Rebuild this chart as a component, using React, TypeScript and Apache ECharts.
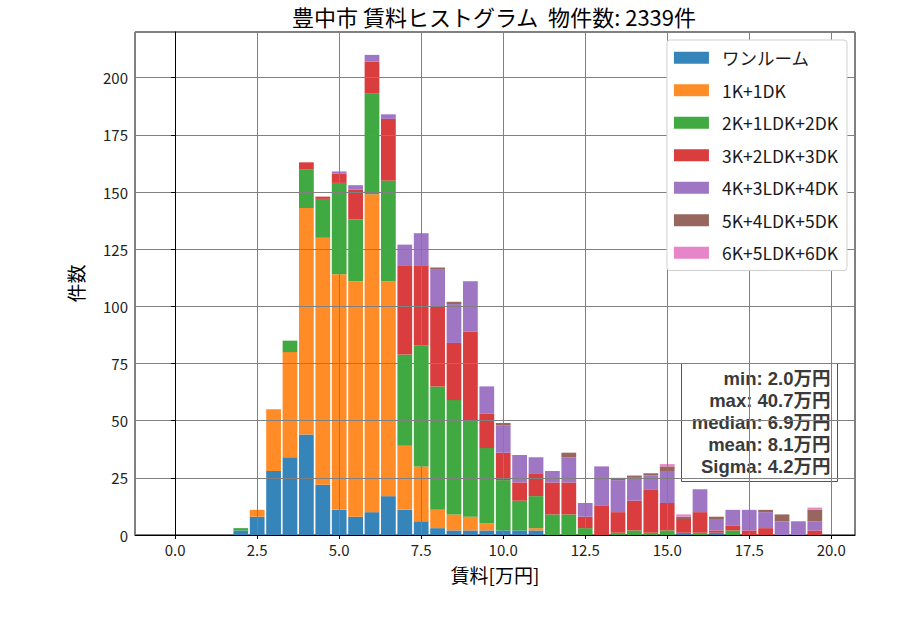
import React, { useEffect, useRef } from "react";
import * as echarts from "echarts";

// 賃料のビン（0.5万円刻み、中心値）
const bins = [
  0, 0.5, 1, 1.5, 2, 2.5, 3, 3.5, 4, 4.5, 5, 5.5, 6, 6.5, 7, 7.5, 8, 8.5, 9, 9.5,
  10, 10.5, 11, 11.5, 12, 12.5, 13, 13.5, 14, 14.5, 15, 15.5, 16, 16.5, 17, 17.5, 18, 18.5, 19, 19.5,
];

const layoutNames = [
  "ワンルーム",
  "1K+1DK",
  "2K+1LDK+2DK",
  "3K+2LDK+3DK",
  "4K+3LDK+4DK",
  "5K+4LDK+5DK",
  "6K+5LDK+6DK",
];

const oneRoom = [
  0, 0, 0, 0, 2, 8, 28, 34, 44, 22, 11, 8, 10, 17, 11, 6, 3, 2, 2, 2,
  2, 2, 2, 0, 0, 0, 0, 0, 0, 0, 0, 1, 0, 1, 0, 0, 0, 0, 0, 0,
];
const k1 = [
  0, 0, 0, 0, 0, 3, 27, 46, 99, 108, 103, 103, 139, 94, 28, 24, 8, 7, 6, 3,
  0, 0, 1, 0, 0, 0, 0, 0, 0, 0, 0, 0, 0, 0, 0, 0, 0, 0, 0, 0,
];
const k2 = [
  0, 0, 0, 0, 1, 0, 0, 5, 17, 17, 40, 27, 44, 44, 40, 53, 54, 50, 42, 33,
  22, 13, 14, 9, 9, 3, 0, 1, 2, 1, 2, 0, 1, 0, 2, 0, 0, 0, 0, 0,
];
const k3 = [
  0, 0, 0, 0, 0, 0, 0, 0, 3, 1, 4, 13, 14, 27, 39, 35, 35, 25, 39, 15,
  12, 8, 10, 14, 14, 5, 13, 9, 13, 19, 12, 6, 9, 1, 2, 2, 3, 0, 0, 2,
];
const k4 = [
  0, 0, 0, 0, 0, 0, 0, 0, 0, 0, 1, 2, 3, 2, 9, 14, 16, 17, 22, 12,
  12, 12, 7, 5, 11, 6, 17, 14, 10, 6, 14, 0, 10, 5, 7, 9, 7, 6, 6, 4,
];
const k5 = [
  0, 0, 0, 0, 0, 0, 0, 0, 0, 0, 0, 0, 0, 0, 0, 0, 1, 1, 0, 0,
  1, 0, 0, 0, 2, 0, 0, 1, 1, 1, 2, 1, 0, 1, 0, 0, 1, 3, 0, 5,
];
const k6 = [
  0, 0, 0, 0, 0, 0, 0, 0, 0, 0, 0, 0, 0, 0, 0, 0, 0, 0, 0, 0,
  0, 0, 0, 0, 0, 0, 0, 0, 0, 0, 1, 1, 0, 0, 0, 0, 0, 0, 0, 1,
];

const statsLines = ["min: 2.0万円", "max: 40.7万円", "median: 6.9万円", "mean: 8.1万円", "Sigma: 4.2万円"];

const colors = ["#3585bb", "#ff8c26", "#41a941", "#da3d3e", "#9f76c4", "#97675d", "#e685c8"];

const FONT = "'Noto Sans CJK JP', 'Noto Sans', sans-serif";
// 統計ボックスは行間が詰まっているので行の高さが小さいフォントにする
const STATS_FONT = "'Liberation Sans', 'Noto Sans CJK JP', sans-serif";

// 軸の範囲（matplotlib の 5% マージン付き）
const xMin = -1.225;
const xMax = 20.725;
const yMax = 220;

const App = () => {
  const chartRef = useRef<HTMLDivElement>(null);

  useEffect(() => {
    document.body.style.margin = "0";
    const chart = echarts.init(chartRef.current, null, { renderer: "svg" });

    const seriesValues = [oneRoom, k1, k2, k3, k4, k5, k6];

    // 棒用グリッドは -0.25〜19.75 の範囲に合わせる
    const plotLeft = 135;
    const plotWidth = 720;
    const pxPerUnit = plotWidth / (xMax - xMin);
    const barLeft = plotLeft + (bins[0] - 0.25 - xMin) * pxPerUnit;
    const barWidthPx = bins.length * 0.5 * pxPerUnit;

    chart.setOption({
      animation: false,
      textStyle: { fontFamily: FONT },
      title: {
        text: "豊中市 賃料ヒストグラム  物件数: 2339件",
        left: 489,
        top: 0,
        textAlign: "center",
        textStyle: { fontFamily: FONT, fontSize: 22, fontWeight: "normal", color: "#000" },
      },
      legend: {
        data: layoutNames,
        orient: "vertical",
        right: 53,
        top: 40,
        itemWidth: 35,
        itemHeight: 12,
        itemGap: 15,
        padding: [9, 9, 9, 7],
        backgroundColor: "#fff",
        borderColor: "#d0d0d0",
        borderWidth: 1,
        borderRadius: 3,
        icon: "rect",
        textStyle: { fontFamily: FONT, fontSize: 17.5, color: "#1a1a1a", padding: [0, 0, 0, 8] },
      },
      grid: [
        {
          left: plotLeft,
          right: 900 - plotLeft - plotWidth,
          top: 32,
          bottom: 95,
          show: true,
          borderColor: "#000",
          borderWidth: 1,
          backgroundColor: "transparent",
        },
        {
          left: barLeft,
          width: barWidthPx,
          top: 32,
          bottom: 95,
          show: false,
        },
      ],
      xAxis: [
        {
          type: "value",
          gridIndex: 0,
          min: xMin,
          max: xMax,
          minInterval: 2.5,
          maxInterval: 2.5,
          z: 3,
          name: "賃料[万円]",
          nameLocation: "middle",
          nameGap: 30,
          nameTextStyle: { fontFamily: FONT, fontSize: 19, color: "#000" },
          axisLine: { show: true, lineStyle: { color: "#000", width: 1 } },
          axisTick: { show: true, length: 4, lineStyle: { color: "#000" } },
          axisLabel: {
            showMinLabel: false,
            showMaxLabel: false,
            fontFamily: FONT,
            fontSize: 15,
            color: "#222",
            margin: 7,
            formatter: (v: number) => v.toFixed(1),
          },
          splitLine: { show: true, lineStyle: { color: "#808080", width: 1 } },
        },
        {
          type: "category",
          gridIndex: 1,
          data: bins.map((b) => b.toFixed(1)),
          boundaryGap: true,
          show: false,
        },
      ],
      yAxis: [
        {
          type: "value",
          gridIndex: 0,
          min: 0,
          max: yMax,
          interval: 25,
          z: 3,
          name: "件数",
          nameLocation: "middle",
          nameGap: 50,
          nameRotate: 90,
          nameTextStyle: { fontFamily: FONT, fontSize: 19, color: "#000" },
          axisLine: { show: true, lineStyle: { color: "#000", width: 1 } },
          axisTick: { show: true, length: 4, lineStyle: { color: "#000" } },
          axisLabel: {
            showMaxLabel: false,
            fontFamily: FONT,
            fontSize: 15,
            color: "#222",
            margin: 7,
          },
          splitLine: { show: true, lineStyle: { color: "#808080", width: 1 } },
        },
        {
          type: "value",
          gridIndex: 1,
          min: 0,
          max: yMax,
          show: false,
          splitLine: { show: false },
        },
      ],
      series: layoutNames.map((name, i) => ({
        name,
        type: "bar",
        stack: "total",
        xAxisIndex: 1,
        yAxisIndex: 1,
        barCategoryGap: "10%",
        z: 2,
        itemStyle: { color: colors[i] },
        data: seriesValues[i],
      })),
      graphic: [
        {
          type: "group",
          left: 681,
          top: 363,
          z: 10,
          children: [
            {
              type: "rect",
              shape: { x: 0, y: 0, width: 156, height: 118 },
              style: { fill: "#fff", stroke: "#555", lineWidth: 1 },
            },
            ...statsLines.map((line, i) => ({
              type: "text",
              x: 149,
              y: 15 + i * 22,
              style: {
                text: line,
                align: "right",
                verticalAlign: "middle",
                fontFamily: STATS_FONT,
                fontSize: 18.5,
                fontWeight: "bold",
                fill: "#3a3a3a",
              },
            })),
          ],
        },
      ],
    });

    return () => chart.dispose();
  }, []);

  return <div ref={chartRef} style={{ width: "900px", height: "630px" }} />;
};

export default App;
